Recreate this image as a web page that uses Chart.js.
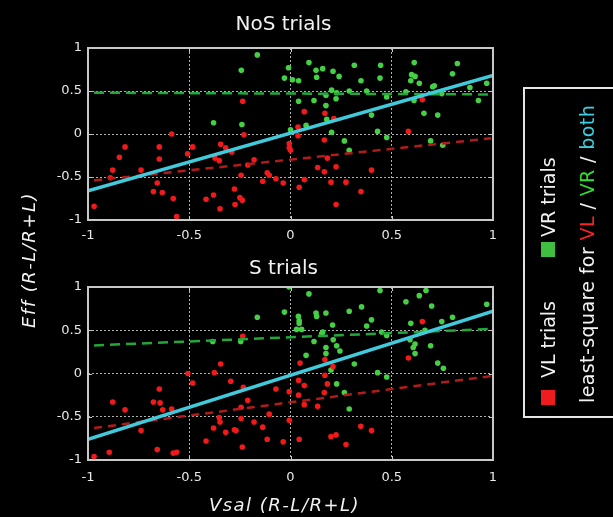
<!DOCTYPE html>
<html>
<head>
<meta charset="utf-8">
<script src="https://cdn.jsdelivr.net/npm/chart.js@4/dist/chart.umd.min.js"></script>
<style>
  html, body { margin: 0; padding: 0; background: #000; }
  body { position: relative; width: 613px; height: 517px; overflow: hidden; font-family: "DejaVu Sans", sans-serif; color: #f2f2f2; }
  canvas { position: absolute; left: 0; }
  .title { position: absolute; left: 0; width: 567px; text-align: center; font-size: 20px; line-height: 20px; white-space: nowrap; }
  .axlabel { position: absolute; font-size: 18px; line-height: 18px; font-style: italic; letter-spacing: 1.5px; text-align: center; white-space: nowrap; }
  .lb { position: absolute; background: #e6e6e6; }
  #legendInner { position: absolute; left: 524px; top: 417px; width: 330px; height: 85px; transform-origin: 0 0; transform: rotate(-90deg); font-size: 19px; line-height: 19px; white-space: nowrap; }
  #legendInner > * { position: absolute; }
</style>
</head>
<body>
<canvas id="c1" width="613" height="245" style="top:0px"></canvas>
<canvas id="c2" width="613" height="245" style="top:250px"></canvas>

<div class="title" style="top:13px">NoS trials</div>
<div class="title" style="top:257px">S trials</div>
<div class="axlabel" style="left:-121px; top:251px; width:300px; height:18px; transform: rotate(-90deg);">Eff (R-L/R+L)</div>
<div class="axlabel" style="left:0; top:496px; width:569px;">Vsal  (R-L/R+L)</div>

<div class="lb" style="left:523px; top:87px; width:120px; height:2px;"></div>
<div class="lb" style="left:523px; top:416px; width:120px; height:2px;"></div>
<div class="lb" style="left:523px; top:87px; width:2px; height:331px;"></div>
<div id="legendInner">
  <div style="left:12px; top:17px; width:15px; height:14px; background:#ee1c1c;"></div>
  <span style="left:39px; top:15px;">VL trials</span>
  <div style="left:160px; top:17px; width:15px; height:14px; background:#3fbe3f;"></div>
  <span style="left:180px; top:15px;">VR trials</span>
  <span style="left:14px; top:54px; letter-spacing:0.4px;">least-square for <span style="color:#ff2222">VL</span> / <span style="color:#33dd33">VR</span> / <span style="color:#3cd0e0">both</span></span>
</div>

<script>
// ---------- DATA ----------
const tickValues = [-1, -0.5, 0, 0.5, 1];
const tickLabels = ['-1', '-0.5', '0', '0.5', '1'];

// NoS trials: VL (red) and VR (green) points [Vsal, Eff]
const nosVL = [
  [-0.236,0.38],[-0.97,-0.84],[-0.587,0.0],[-0.817,-0.15],[-0.845,-0.27],[-0.648,-0.15],[-0.648,-0.29],
  [-0.878,-0.42],[-0.738,-0.42],[-0.89,-0.51],[-0.658,-0.57],[-0.677,-0.67],[-0.633,-0.68],[-0.579,-0.75],
  [-0.562,-0.96],[-0.483,-0.15],[-0.508,-0.23],[-0.23,-0.01],[-0.345,-0.12],[-0.32,-0.16],[-0.29,-0.21],
  [-0.373,-0.28],[-0.352,-0.31],[-0.18,-0.30],[-0.211,-0.36],[-0.244,-0.48],[-0.137,-0.55],[-0.115,-0.45],
  [-0.105,-0.48],[-0.072,-0.52],[-0.036,-0.57],[-0.006,-0.11],[-0.006,-0.16],[0.0,-0.19],[0.037,-0.02],
  [0.037,0.08],[-0.277,-0.64],[-0.38,-0.71],[-0.417,-0.76],[-0.25,-0.74],[-0.238,-0.77],[-0.274,-0.82],
  [-0.348,-0.87],[0.068,0.26],[0.17,0.24],[0.214,0.18],[0.167,-0.07],[0.582,0.03],[0.651,0.40],
  [0.182,-0.28],[0.134,-0.39],[0.167,-0.44],[0.225,-0.38],[0.068,-0.53],[0.20,-0.56],[0.274,-0.56],
  [0.043,-0.62],[0.348,-0.67],[0.40,-0.42],[0.225,-0.82]
];
const nosVR = [
  [-0.164,0.92],[-0.243,0.74],[-0.01,0.77],[-0.03,0.65],[0.01,0.63],[0.04,0.62],[0.04,0.38],[-0.38,0.13],
  [-0.24,0.11],[0.0,0.05],[0.091,0.83],[0.126,0.74],[0.159,0.76],[0.21,0.73],[0.315,0.80],[0.445,0.80],
  [0.129,0.66],[0.24,0.67],[0.348,0.62],[0.442,0.65],[0.611,0.83],[0.598,0.69],[0.615,0.67],[0.594,0.62],
  [0.636,0.59],[0.824,0.82],[0.80,0.70],[0.969,0.59],[0.203,0.51],[0.228,0.48],[0.29,0.50],[0.376,0.50],
  [0.175,0.45],[0.225,0.41],[0.116,0.39],[0.475,0.43],[0.57,0.49],[0.702,0.55],[0.71,0.56],[0.747,0.47],
  [0.886,0.54],[0.928,0.39],[0.61,0.39],[0.175,0.33],[0.179,0.17],[0.40,0.22],[0.659,0.24],[0.727,0.22],
  [0.077,0.10],[0.203,0.02],[0.43,0.03],[0.475,-0.04],[0.266,-0.08],[0.29,-0.19],[0.692,-0.08],[0.752,-0.13]
];
// NoS least-square fits (endpoints)
const nosFitVL = [[-0.97,-0.54],[0.99,-0.05]];
const nosFitVR = [[-0.97,0.48],[0.99,0.46]];
const nosFitBoth = [[-1,-0.66],[1,0.68]];

// S trials
const sVL = [
  [-0.236,0.43],[-0.345,0.11],[-0.376,0.01],[-0.507,0.0],[-0.483,-0.11],[-0.295,-0.09],[-0.233,-0.16],
  [-0.648,-0.18],[-0.677,-0.33],[-0.644,-0.34],[-0.878,-0.33],[-0.817,-0.42],[-0.631,-0.42],[-0.587,-0.41],
  [-0.211,-0.31],[-0.244,-0.39],[-0.072,-0.18],[-0.006,-0.21],[0.04,-0.08],[0.04,-0.25],[-0.352,-0.51],
  [-0.348,-0.56],[-0.244,-0.52],[-0.18,-0.56],[-0.137,-0.62],[-0.105,-0.47],[-0.006,-0.54],[-0.38,-0.63],
  [-0.32,-0.68],[-0.277,-0.65],[-0.269,-0.66],[-0.738,-0.66],[-0.417,-0.78],[-0.115,-0.76],[-0.036,-0.79],
  [-0.238,-0.85],[-0.658,-0.88],[-0.579,-0.92],[-0.562,-0.91],[-0.895,-0.91],[-0.97,-0.96],
  [0.651,0.60],[0.582,0.18],[0.17,0.16],[0.21,0.08],[0.047,0.12],[0.17,-0.02],[0.068,-0.14],[0.182,-0.12],
  [0.167,-0.22],[0.068,-0.36],[0.134,-0.38],[0.347,-0.61],[0.40,-0.66],[0.20,-0.73],[0.225,-0.71],
  [0.043,-0.76],[0.274,-0.82]
];
const sVR = [
  [-0.007,1.0],[-0.03,0.71],[-0.164,0.65],[-0.384,0.37],[-0.246,0.37],
  [0.091,0.92],[0.442,0.96],[0.669,0.96],[0.636,0.90],[0.57,0.83],[0.697,0.78],[0.351,0.77],[0.29,0.72],
  [0.969,0.80],[0.126,0.70],[0.129,0.66],[0.175,0.70],[0.039,0.66],[0.043,0.61],[0.043,0.58],[0.40,0.62],
  [0.376,0.55],[0.594,0.58],[0.747,0.60],[0.80,0.65],[0.208,0.56],[0.03,0.51],[0.055,0.51],[0.159,0.48],
  [0.154,0.46],[0.45,0.48],[0.475,0.44],[0.664,0.50],[0.59,0.39],[0.615,0.34],[0.606,0.30],[0.211,0.39],
  [0.228,0.32],[0.244,0.26],[0.116,0.37],[0.175,0.30],[0.175,0.23],[0.692,0.32],[0.615,0.23],[0.077,0.21],
  [0.315,0.11],[0.20,0.04],[0.43,0.01],[0.475,-0.04],[0.228,-0.12],[0.266,-0.22],[0.727,0.12],[0.755,0.06],
  [0.29,-0.41]
];
const sFitVL = [[-0.97,-0.63],[0.99,-0.03]];
const sFitVR = [[-0.97,0.325],[0.99,0.515]];
const sFitBoth = [[-1,-0.76],[1,0.72]];

// ---------- STYLE ----------
const RED = '#f01a1a', GREEN = '#45cf45', CYAN = '#40cadc';
const RED_FIT = '#b01c1c', GREEN_FIT = '#22a83a';
const toXY = arr => arr.map(p => ({x: p[0], y: p[1]}));

const framePlugin = {
  id: 'frame',
  afterDraw(chart) {
    const {ctx, chartArea: a, scales} = chart;
    ctx.save();
    ctx.strokeStyle = '#c8c8c8';
    ctx.lineWidth = 1;
    const tl = 4;
    ctx.beginPath();
    scales.x.ticks.forEach(t => {
      const px = Math.round(scales.x.getPixelForValue(t.value)) + 0.5;
      ctx.moveTo(px, a.bottom); ctx.lineTo(px, a.bottom - tl);
      ctx.moveTo(px, a.top); ctx.lineTo(px, a.top + tl);
    });
    scales.y.ticks.forEach(t => {
      const py = Math.round(scales.y.getPixelForValue(t.value)) + 0.5;
      ctx.moveTo(a.left, py); ctx.lineTo(a.left + tl, py);
      ctx.moveTo(a.right, py); ctx.lineTo(a.right - tl, py);
    });
    ctx.stroke();
    ctx.lineWidth = 2;
    ctx.strokeRect(a.left, a.top, a.right - a.left, a.bottom - a.top);
    ctx.restore();
  }
};

function makeChart(id, vl, vr, fitVL, fitVR, fitBoth, padTop, xAxisH, xPad) {
  const scaleBase = (afterFit) => ({
    type: 'linear', min: -1, max: 1,
    afterBuildTicks: s => { s.ticks = tickValues.map(v => ({value: v})); },
    afterFit,
    grid: {
      drawTicks: false, lineWidth: 1,
      color: c => (c.tick && Math.abs(c.tick.value) === 1) ? 'rgba(0,0,0,0)' : '#b0b0b0'
    },
    border: { display: false, dash: [2, 2] },
    ticks: {
      color: '#e8e8e8', font: { family: 'DejaVu Sans', size: 13 }, autoSkip: false, maxRotation: 0,
      callback: v => tickLabels[tickValues.indexOf(v)]
    }
  });
  const xs = scaleBase(s => { s.height = xAxisH; });
  xs.ticks.padding = xPad;
  const ys = scaleBase(s => { s.width = 88; });
  ys.ticks.padding = 6;
  return new Chart(document.getElementById(id), {
    type: 'scatter',
    data: {
      datasets: [
        { data: toXY(fitBoth), showLine: true, borderColor: CYAN, borderWidth: 3.5, pointRadius: 0, order: 0 },
        { data: toXY(fitVL), showLine: true, borderColor: RED_FIT, borderWidth: 2.5, borderDash: [8, 6], pointRadius: 0, order: 1 },
        { data: toXY(fitVR), showLine: true, borderColor: GREEN_FIT, borderWidth: 2.5, borderDash: [10, 6], pointRadius: 0, order: 1 },
        { data: toXY(vl), backgroundColor: RED, borderWidth: 0, pointRadius: 2.8, order: 2 },
        { data: toXY(vr), backgroundColor: GREEN, borderWidth: 0, pointRadius: 2.8, order: 3 }
      ]
    },
    options: {
      responsive: false, animation: false, devicePixelRatio: 1,
      layout: { padding: { left: 0, right: 120, top: padTop, bottom: 0 } },
      plugins: { legend: { display: false }, tooltip: { enabled: false }, title: { display: false } },
      scales: { x: xs, y: ys }
    },
    plugins: [framePlugin]
  });
}

makeChart('c1', nosVL, nosVR, nosFitVL, nosFitVR, nosFitBoth, 48, 25, 8);
makeChart('c2', sVL, sVR, sFitVL, sFitVR, sFitBoth, 37, 35, 10);
</script>
</body>
</html>
